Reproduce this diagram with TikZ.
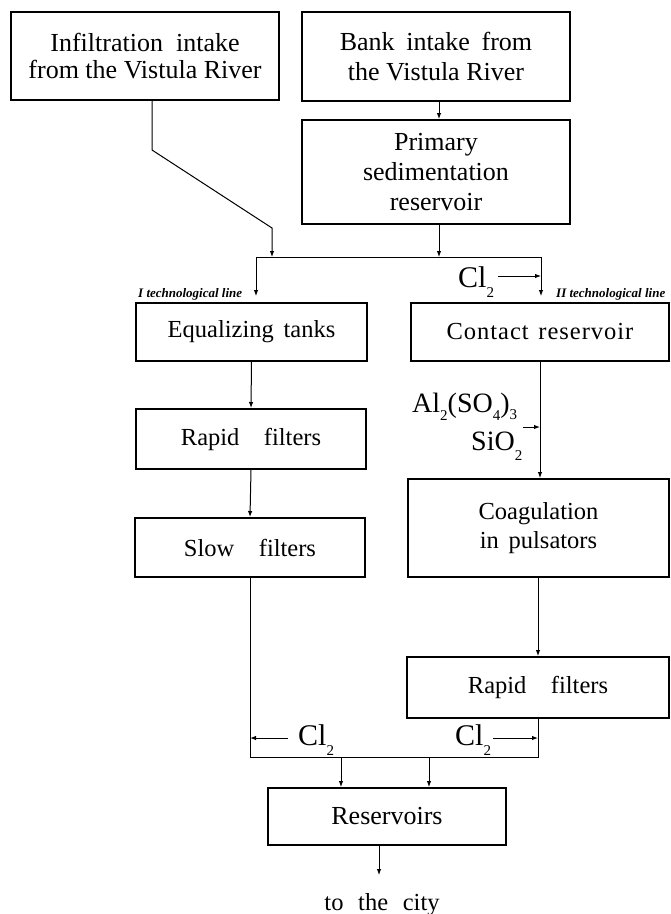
\documentclass[tikz,border=0pt]{standalone}
\usepackage{fontspec}
\setmainfont{Liberation Serif}
\usetikzlibrary{arrows.meta}
\newcommand\chsub[2][-10pt]{\raisebox{#1}{\fontsize{15}{15}\selectfont #2}}
\begin{document}
\begin{tikzpicture}[x=1pt,y=-1pt,
 box/.style={draw,line width=2pt,inner sep=0pt,align=center,font=\fontsize{24.5}{29}\selectfont},
 topbox/.style={box,font=\fontsize{26}{30}\selectfont},
 conn/.style={line width=1pt},
 arr/.style={conn,-{Latex[length=6pt,width=4.5pt]}},
 chem/.style={inner sep=0pt,anchor=base west,font=\fontsize{30}{30}\selectfont},
 tech/.style={inner sep=0pt,anchor=base west,font=\fontsize{13}{13}\selectfont\bfseries\itshape}]
\useasboundingbox (0,0) rectangle (671,914);
\fill[white] (0,0) rectangle (671,914);

% boxes
\node[topbox,minimum width=268pt,minimum height=88pt] (inf) at (145,56)
  {Infiltration\hspace{0.5em}intake\\[-3pt]from the Vistula River};
\node[topbox,minimum width=268pt,minimum height=89pt] (bank) at (436,56.5)
  {Bank\hspace{0.45em}intake\hspace{0.45em}from\\the Vistula River};
\node[topbox,minimum width=268pt,minimum height=104pt] (prim) at (436,172)
  {Primary\\sedimentation\\reservoir};
\node[box,minimum width=231pt,minimum height=58pt] (eq) at (251.5,332)
  {Equalizing\hspace{0.4em}tanks};
\node[box,minimum width=230pt,minimum height=60pt] (rapL) at (251,439)
  {Rapid\hspace{1em}filters};
\node[box,minimum width=230pt,minimum height=59pt] (slow) at (250,547.5)
  {Slow\hspace{1em}filters};
\node[box,minimum width=258pt,minimum height=58pt] (contact) at (540,332)
  {\addfontfeature{LetterSpace=4}Contact\hspace{0.4em}reservoir};
\node[box,minimum width=261pt,minimum height=98pt] (coag) at (538.5,528)
  {Coagulation\\in\hspace{0.4em}pulsators};
\node[box,minimum width=262pt,minimum height=61pt] (rapR) at (538,687.5)
  {Rapid\hspace{1em}filters};
\node[box,font=\fontsize{26}{30}\selectfont,minimum width=238pt,minimum height=57pt] (res) at (387,816.5)
  {Reservoirs};
\node[inner sep=0pt,anchor=base,font=\fontsize{24.5}{29}\selectfont] (city) at (382,910)
  {to\hspace{0.6em}the\hspace{0.6em}city};

% labels
\node[tech] (t1) at (138,297) {I technological line};
\node[tech] (t2) at (556,297) {II technological line};
\node[chem] (cl1) at (458,287) {Cl\chsub{2}};
\node[chem] (cl2) at (298,745) {Cl\chsub{2}};
\node[chem] (cl3) at (455,745) {Cl\chsub{2}};
\node[chem,font=\fontsize{28}{28}\selectfont] (al) at (412,412)
  {Al\chsub[-8pt]{2}(SO\chsub[-8pt]{4})\chsub[-7pt]{3}};
\node[chem,font=\fontsize{28}{28}\selectfont] (si) at (471,450)
  {SiO\chsub[-10pt]{2}};

% coordinates
\coordinate (i1) at (152,150);
\coordinate (i2) at (272,228);
\coordinate (jL) at (256,257);
\coordinate (jR) at (541,257);
\coordinate (c1s) at (498,276);
\coordinate (a1) at (523,427);
\coordinate (bL) at (250,757);
\coordinate (bR) at (538,757);
\coordinate (c2s) at (288,738);
\coordinate (c3s) at (493,738);
\coordinate (d1) at (341,757);
\coordinate (d2) at (429,757);
\coordinate (ca) at (379,875);
\coordinate (pa) at (439,0);

% connectors
\draw[arr] (bank.south -| pa) -- (prim.north -| pa);
\draw[arr] (inf.south -| i1) -- (i1) -- (i2) -- (i2 |- jL);
\draw[arr] (prim.south -| pa) -- (jL -| pa);
\draw[conn] (jL) -- (jR);
\draw[arr] (jL) -- ([yshift=6pt]eq.north -| jL);
\draw[arr] (jR) -- ([yshift=6pt]contact.north -| jR);
\draw[arr] (c1s) -- (c1s -| jR);
\draw[arr] (eq.south) -- (rapL.north);
\draw[arr] (rapL.south) -- (slow.north);
\draw[arr] (contact.south) -- (contact.south |- coag.north);
\draw[arr] (a1) -- (a1 -| contact.south);
\draw[arr] (coag.south -| rapR.south) -- (rapR.north);
\draw[conn] (slow.south) -- (bL) -- (bR) -- (rapR.south);
\draw[arr] (c2s) -- (c2s -| bL);
\draw[arr] (c3s) -- (c3s -| bR);
\draw[arr] (d1) -- (d1 |- res.north);
\draw[arr] (d2) -- (d2 |- res.north);
\draw[arr] (res.south -| ca) -- (ca);
\end{tikzpicture}
\end{document}
